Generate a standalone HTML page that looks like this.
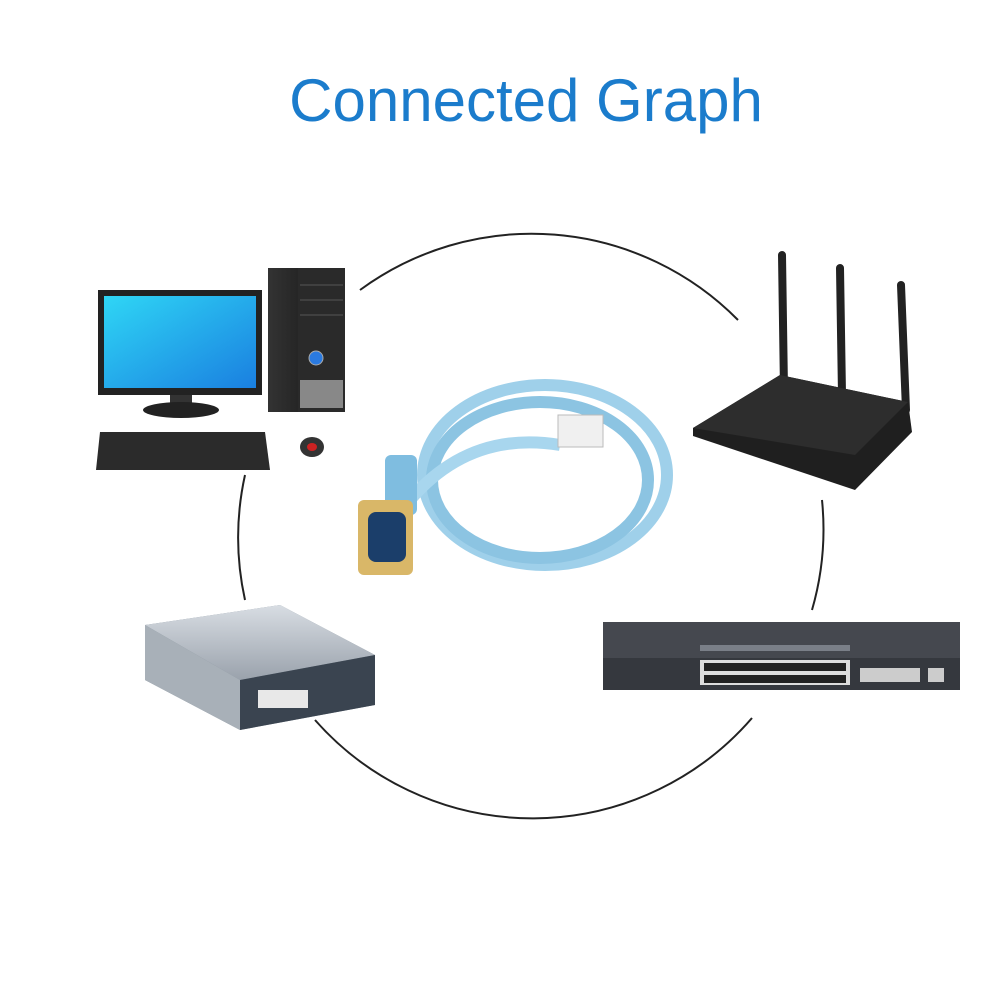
<!DOCTYPE html>
<html><head><meta charset="utf-8"><style>
html,body{margin:0;padding:0;background:#fff;width:1000px;height:1000px;overflow:hidden}
</style></head><body>
<svg width="1000" height="1000" viewBox="0 0 1000 1000" xmlns="http://www.w3.org/2000/svg">
<defs>
<linearGradient id="scr" x1="0" y1="0" x2="1" y2="1"><stop offset="0" stop-color="#2fd6f5"/><stop offset="1" stop-color="#1a7fe0"/></linearGradient>
<linearGradient id="tower" x1="0" y1="0" x2="1" y2="0"><stop offset="0" stop-color="#333"/><stop offset="1" stop-color="#111"/></linearGradient>
<linearGradient id="rtr" x1="0" y1="0" x2="0" y2="1"><stop offset="0" stop-color="#d8dde3"/><stop offset="1" stop-color="#9aa2ac"/></linearGradient>
</defs>
<rect width="1000" height="1000" fill="#fff"/>
<text x="526" y="121" text-anchor="middle" font-family="Liberation Sans, sans-serif" font-size="60" fill="#1b7ccc">Connected Graph</text>
<g fill="none" stroke="#222" stroke-width="2">
<path d="M360 290 A290 290 0 0 1 738 320"/>
<path d="M245 475 A290 290 0 0 0 245 600"/>
<path d="M822 500 A290 290 0 0 1 812 610"/>
<path d="M315 720 A290 290 0 0 0 752 718"/>
</g>
<!-- computer -->
<rect x="98" y="290" width="164" height="105" fill="#222"/>
<rect x="104" y="296" width="152" height="92" fill="url(#scr)"/>
<rect x="170" y="395" width="22" height="12" fill="#333"/>
<ellipse cx="181" cy="410" rx="38" ry="8" fill="#222"/>
<rect x="268" y="268" width="77" height="144" fill="url(#tower)"/>
<rect x="298" y="268" width="47" height="144" fill="#2a2a2a"/>
<g stroke="#555" stroke-width="1"><line x1="300" y1="285" x2="343" y2="285"/><line x1="300" y1="300" x2="343" y2="300"/><line x1="300" y1="315" x2="343" y2="315"/></g>
<circle cx="316" cy="358" r="7" fill="#2a7ae0" stroke="#aaa"/>
<rect x="300" y="380" width="43" height="28" fill="#888"/>
<path d="M100 432 L265 432 L270 470 L96 470 Z" fill="#2b2b2b"/>
<ellipse cx="312" cy="447" rx="12" ry="10" fill="#333"/>
<ellipse cx="312" cy="447" rx="5" ry="4" fill="#c22"/>
<!-- router -->
<g stroke="#222" stroke-width="8" stroke-linecap="round">
<line x1="782" y1="255" x2="784" y2="390"/>
<line x1="840" y1="268" x2="842" y2="395"/>
<line x1="901" y1="285" x2="906" y2="410"/>
</g>
<path d="M693 428 L780 375 L908 402 L912 432 L855 490 L693 436 Z" fill="#1f1f1f"/>
<path d="M693 428 L780 375 L908 402 L855 455 Z" fill="#2d2d2d"/>
<!-- cable -->
<g fill="none" stroke="#9fd0ea" stroke-width="12">
<ellipse cx="545" cy="475" rx="122" ry="90"/>
<ellipse cx="540" cy="480" rx="108" ry="78" stroke="#8cc4e2"/>
<path d="M410 500 Q470 430 560 445" stroke="#a8d6ee"/>
</g>
<rect x="558" y="415" width="45" height="32" fill="#f0f0f0" stroke="#bbb"/>
<rect x="385" y="455" width="32" height="60" rx="6" fill="#7fbde0"/>
<rect x="358" y="500" width="55" height="75" rx="6" fill="#d9b768"/>
<rect x="368" y="512" width="38" height="50" rx="8" fill="#1b3e6a"/>
<!-- left router -->
<path d="M145 625 L280 605 L375 655 L375 705 L240 730 L145 680 Z" fill="#7b8792"/>
<path d="M145 625 L280 605 L375 655 L240 680 Z" fill="url(#rtr)"/>
<path d="M240 680 L375 655 L375 705 L240 730 Z" fill="#3a4450"/>
<path d="M145 625 L240 680 L240 730 L145 680 Z" fill="#a8b0b8"/>
<rect x="258" y="690" width="50" height="18" fill="#e8e8e8"/>
<!-- switch -->
<rect x="603" y="622" width="357" height="38" fill="#45484f"/>
<rect x="603" y="658" width="357" height="32" fill="#35383e"/>
<rect x="700" y="660" width="150" height="25" fill="#ddd"/>
<g fill="#222"><rect x="704" y="663" width="142" height="8"/><rect x="704" y="675" width="142" height="8"/></g>
<rect x="860" y="668" width="60" height="14" fill="#ccc"/>
<rect x="928" y="668" width="16" height="14" fill="#ccc"/>
<g fill="#7a7f88"><rect x="700" y="645" width="150" height="6"/></g>
</svg>
</body></html>
